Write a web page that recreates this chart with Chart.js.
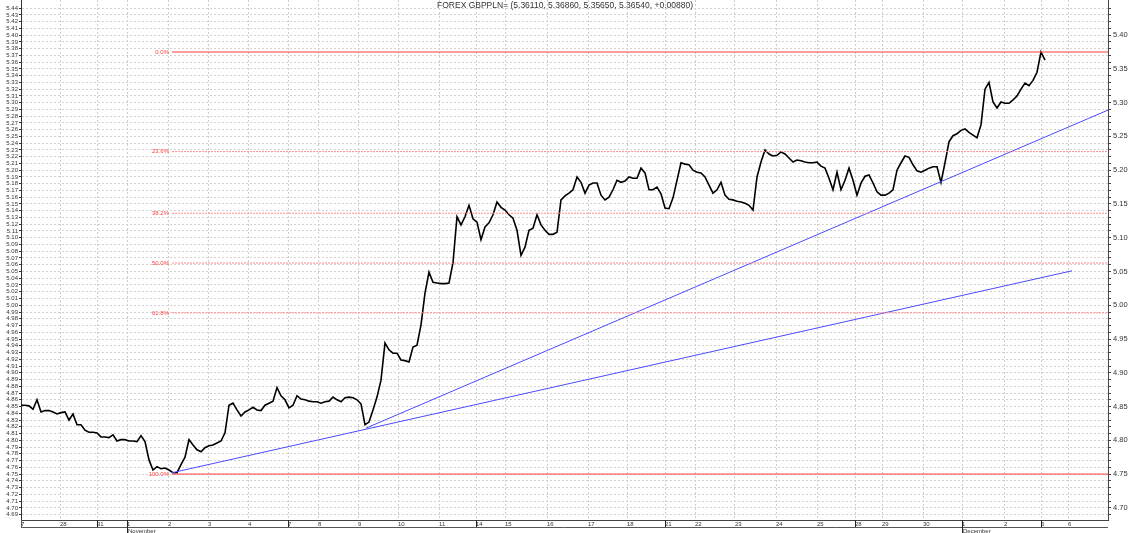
<!DOCTYPE html>
<html>
<head>
<meta charset="utf-8">
<script src="https://cdn.jsdelivr.net/npm/chart.js@4/dist/chart.umd.min.js"></script>
<style>
html,body{margin:0;padding:0;background:#fff;}
</style>
</head>
<body>
<canvas id="grafico" width="1130" height="533"></canvas>
<script>
// ===== DATOS =====
const titulo="FOREX GBPPLN= (5.36110, 5.36860, 5.35650, 5.36540, +0.00880)";

// cierres intradía (27 oct - 5 dic)
const cierres=[
 4.852,4.852,4.851,4.846,4.860,4.842,4.844,4.844,4.842,4.839,
 4.841,4.842,4.830,4.839,4.823,4.823,4.815,4.812,4.812,4.811,
 4.805,4.805,4.804,4.808,4.799,4.801,4.801,4.799,4.799,4.798,
 4.807,4.798,4.771,4.756,4.761,4.758,4.759,4.756,4.752,4.752,
 4.764,4.775,4.801,4.793,4.786,4.783,4.789,4.792,4.793,4.796,
 4.799,4.811,4.852,4.855,4.845,4.836,4.842,4.845,4.849,4.845,
 4.844,4.852,4.855,4.858,4.878,4.866,4.860,4.848,4.852,4.866,
 4.861,4.860,4.858,4.857,4.857,4.855,4.857,4.858,4.864,4.860,
 4.857,4.863,4.864,4.863,4.860,4.854,4.823,4.827,4.845,4.864,
 4.889,4.944,4.934,4.929,4.929,4.919,4.918,4.916,4.938,4.941,
 4.971,5.018,5.049,5.034,5.033,5.032,5.032,5.033,5.063,5.131,
 5.119,5.131,5.148,5.128,5.123,5.097,5.116,5.122,5.134,5.153,
 5.145,5.141,5.134,5.129,5.111,5.074,5.086,5.111,5.114,5.134,
 5.119,5.111,5.105,5.105,5.108,5.156,5.162,5.166,5.171,5.190,
 5.182,5.166,5.178,5.181,5.181,5.163,5.156,5.160,5.171,5.185,
 5.182,5.184,5.190,5.188,5.188,5.203,5.196,5.171,5.171,5.175,
 5.165,5.144,5.143,5.159,5.185,5.211,5.209,5.208,5.200,5.197,
 5.196,5.190,5.178,5.166,5.171,5.182,5.163,5.157,5.156,5.154,
 5.153,5.151,5.148,5.141,5.190,5.212,5.230,5.224,5.221,5.222,
 5.227,5.224,5.218,5.212,5.215,5.214,5.212,5.211,5.211,5.212,
 5.206,5.203,5.188,5.171,5.197,5.171,5.185,5.203,5.185,5.163,
 5.181,5.191,5.193,5.181,5.168,5.163,5.163,5.166,5.171,5.200,
 5.211,5.221,5.219,5.208,5.199,5.197,5.200,5.203,5.205,5.205,
 5.182,5.211,5.242,5.251,5.254,5.259,5.261,5.256,5.252,5.248,
 5.267,5.320,5.330,5.301,5.292,5.301,5.299,5.299,5.304,5.310,
 5.320,5.329,5.325,5.333,5.345,5.375,5.363
];

// inicio de cada día (índice de la serie) y su etiqueta
const diaPos=[0,9.75,19,26.5,36.75,46.75,56.75,66.75,74.25,84.25,94.25,104.5,113.75,121,131.5,
 141.75,151.5,161,168.5,178.5,188.75,199,208.5,215.25,225.5,235.25,245.75,255,261.75];
const diaLabels=["7","28","31","1","2","3","4","7","8","9","10","11","14","15","16",
 "17","18","21","22","23","24","25","28","29","30","1","2","5","6"];
const lunes=[2,7,12,17,22,27];
const meses=[{dia:3,txt:"November"},{dia:25,txt:"December"}];

// fibonacci
const fibNiveles=[0,23.6,38.2,50,61.8,100];
const fibAlto=5.375, fibBajo=4.750, fibDesde=37.75;

// lineas de tendencia
const tendencia1=[{x:37.75,y:4.752},{x:262.75,y:5.051}];
const tendencia2=[{x:86.25,y:4.818},{x:271.75,y:5.289}];

const yMin=4.682, yMax=5.452, xMax=271.75;
const ejeIzq=[4.69,5.44];

// ===== DATASETS =====
const fuente="'Liberation Sans', Arial, sans-serif";
Chart.defaults.font.family=fuente;

const nivelFib=n=>fibAlto-(fibAlto-fibBajo)*n/100;

const dsFib=fibNiveles.map(n=>({
 data:[{x:fibDesde,y:nivelFib(n)},{x:xMax,y:nivelFib(n)}],
 borderColor:(n===0||n===100)?"#ff3c3c":"#ff8c8c",
 borderWidth:1,
 borderDash:(n===0||n===100)?[]:[2,1],
 pointRadius:0
}));

const dsTend=[tendencia1,tendencia2].map(t=>({
 data:t,borderColor:"#4b4bff",borderWidth:1,pointRadius:0
}));

const dsPrecio={
 data:cierres.map((v,i)=>({x:i,y:v})),
 borderColor:"#000",borderWidth:1.6,pointRadius:0,tension:0
};

// ===== EXTRAS =====
const extras={
 id:"extras",
 afterDatasetsDraw(ch){
  const c=ch.ctx,x=ch.scales.x,y=ch.scales.y;
  c.save();
  c.font="6px "+fuente;
  c.fillStyle="#ff3c3c";
  c.textAlign="right";
  c.textBaseline="middle";
  fibNiveles.forEach(n=>{
   c.fillText(n.toFixed(1)+"%",x.getPixelForValue(fibDesde)-3,y.getPixelForValue(nivelFib(n)));
  });
  c.restore();
 },
 afterDraw(ch){
  const c=ch.ctx,x=ch.scales.x,a=ch.chartArea;
  c.save();
  // titulo
  c.font="8.5px "+fuente;
  c.fillStyle="#333";
  c.textAlign="center";
  c.textBaseline="middle";
  c.fillText(titulo,ch.width/2,6);
  // linea inferior de fechas
  c.strokeStyle="#555";
  c.lineWidth=1;
  c.beginPath();
  c.moveTo(a.left,a.bottom+7.5);c.lineTo(a.right,a.bottom+7.5);
  c.moveTo(a.left+0.5,a.bottom);c.lineTo(a.left+0.5,a.bottom+8);
  c.stroke();
  c.strokeStyle="#222";
  c.beginPath();
  lunes.forEach(k=>{
   const px=Math.round(x.getPixelForValue(diaPos[k]))+0.5;
   c.moveTo(px,a.bottom);c.lineTo(px,a.bottom+7);
  });
  meses.forEach(m=>{
   const px=Math.round(x.getPixelForValue(diaPos[m.dia]))+0.5;
   c.moveTo(px,a.bottom);c.lineTo(px,ch.height);
  });
  c.stroke();
  c.font="6px "+fuente;
  c.textAlign="left";
  meses.forEach(m=>{
   c.fillText(m.txt,x.getPixelForValue(diaPos[m.dia])+1,a.bottom+11);
  });
  c.restore();
 }
};

const sinPadding=s=>{s.paddingTop=0;s.paddingBottom=0;};

// ===== GRAFICO =====
new Chart(document.getElementById("grafico"),{
 type:"line",
 data:{datasets:[...dsFib,...dsTend,dsPrecio]},
 options:{
  responsive:false,
  animation:false,
  devicePixelRatio:1,
  layout:{padding:0},
  plugins:{legend:{display:false},tooltip:{enabled:false},title:{display:false}},
  scales:{
   x:{
    type:"linear",min:0,max:xMax,
    afterFit:s=>{s.height=13;s.paddingLeft=0;s.paddingRight=0;},
    afterBuildTicks:s=>{s.ticks=diaPos.map(v=>({value:v}));},
    ticks:{autoSkip:false,maxRotation:0,align:"start",font:{size:6},color:"#333",padding:1,
     callback:(v,i)=>diaLabels[i]},
    grid:{color:"#cdcdcd",drawTicks:false},
    border:{color:"#444",width:1,dash:[2,2]}
   },
   y:{
    position:"left",min:yMin,max:yMax,
    afterFit:s=>{s.width=21;sinPadding(s);},
    afterBuildTicks:s=>{
     s.ticks=[];
     for(let k=Math.round(ejeIzq[0]*100);k<=Math.round(ejeIzq[1]*100);k++) s.ticks.push({value:k/100});
    },
    ticks:{autoSkip:false,font:{size:6},color:"#333",padding:1,callback:v=>v.toFixed(2)},
    grid:{color:"#d2d2d2",tickColor:"#333",tickLength:2},
    border:{color:"#333",width:1,dash:[2,2]}
   },
   y2:{
    position:"right",min:yMin,max:yMax,
    afterFit:s=>{s.width=22;sinPadding(s);},
    afterBuildTicks:s=>{
     s.ticks=[];
     for(let k=Math.round(ejeIzq[0]*100);k<=Math.round(ejeIzq[1]*100);k++) s.ticks.push({value:k/100});
    },
    ticks:{autoSkip:false,font:{size:7.5},color:"#333",padding:2,
     callback:v=>Math.round(v*100)%5===0?v.toFixed(2):""},
    grid:{drawOnChartArea:false,tickColor:"#444",tickLength:3},
    border:{color:"#444",width:1}
   }
  }
 },
 plugins:[extras]
});
</script>
</body>
</html>
